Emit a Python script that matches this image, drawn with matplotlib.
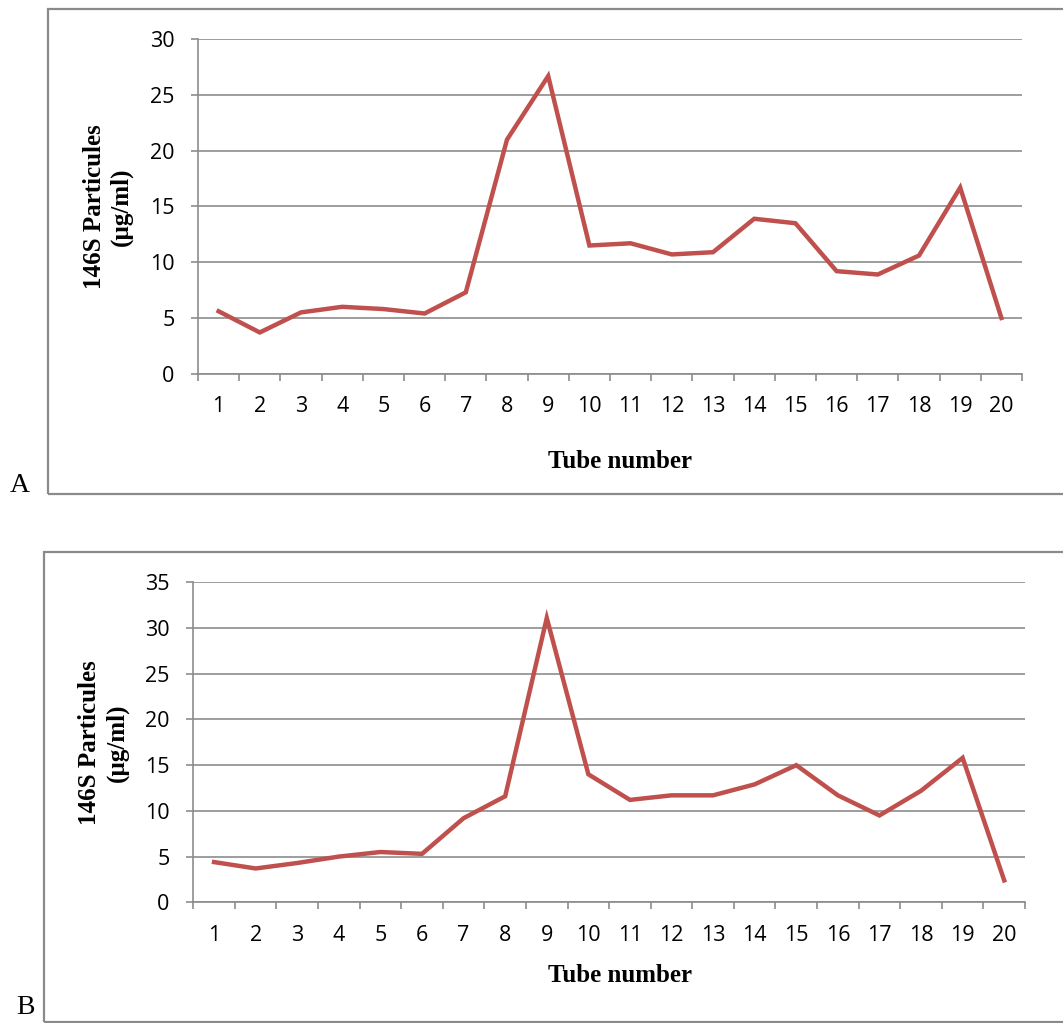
import matplotlib.pyplot as plt
from matplotlib.patches import Rectangle
import numpy as np

# ---------- Data ----------
tubes = [str(i) for i in range(1, 21)]
conc_a = [5.6, 3.7, 5.5, 6.0, 5.8, 5.4, 7.3, 21.0, 26.7, 11.5,
          11.7, 10.7, 10.9, 13.9, 13.5, 9.2, 8.9, 10.6, 16.7, 5.0]
conc_b = [4.4, 3.7, 4.3, 5.0, 5.5, 5.3, 9.2, 11.6, 31.1, 14.0,
          11.2, 11.7, 11.7, 12.9, 15.0, 11.7, 9.5, 12.2, 15.8, 2.4]
yticks_a = [0, 5, 10, 15, 20, 25, 30]
yticks_b = [0, 5, 10, 15, 20, 25, 30, 35]

LINE_RED = "#C0504D"
GRID_GREY = "#8C8C8C"
TICK_FONT = "Open Sans"
LABEL_FONT = "Liberation Serif"

fig = plt.figure(figsize=(10.63, 10.23), dpi=100)


def draw_panel(rect, values, yticks, xlabel_y, box, letter, letter_pos):
    ax = fig.add_axes(rect)
    x = np.arange(len(tubes))
    ax.plot(x, values, color=LINE_RED, lw=3.2, solid_joinstyle="miter", zorder=3)

    ax.set_xlim(-0.5, len(tubes) - 0.5)
    ax.set_ylim(yticks[0], yticks[-1])
    ax.set_yticks(yticks)
    ax.set_yticklabels([str(t) for t in yticks], fontfamily=TICK_FONT, fontsize=15.5)

    # category boundaries carry the tick marks, labels sit at the centres
    ax.set_xticks(np.arange(-0.5, len(tubes), 1.0))
    ax.set_xticklabels([])
    ax.set_xticks(x, minor=True)
    ax.set_xticklabels(tubes, minor=True, fontfamily=TICK_FONT, fontsize=15.5)
    ax.tick_params(axis="x", which="major", length=5, width=1.2, color=GRID_GREY)
    ax.tick_params(axis="x", which="minor", length=0, pad=16)
    ax.tick_params(axis="y", length=5, width=1.2, color=GRID_GREY, pad=12)

    ax.yaxis.grid(True, color=GRID_GREY, lw=1.2)
    ax.set_axisbelow(True)
    for side in ("top", "right"):
        ax.spines[side].set_visible(False)
    for side in ("left", "bottom"):
        ax.spines[side].set_color(GRID_GREY)
        ax.spines[side].set_linewidth(1.2)

    ax.set_ylabel("146S Particules\n(µg/ml)", fontfamily=LABEL_FONT,
                  fontweight="bold", fontsize=18, linespacing=1.2, labelpad=12)
    fig.text(620 / 1063, 1 - xlabel_y / 1023, "Tube number", fontfamily=LABEL_FONT,
             fontweight="bold", fontsize=18, ha="center", va="center")

    fig.add_artist(Rectangle(box[:2], box[2], box[3], transform=fig.transFigure,
                             fill=False, edgecolor="#8A8A8A", lw=1.6))
    fig.text(letter_pos[0] / 1063, 1 - letter_pos[1] / 1023, letter,
             fontfamily=LABEL_FONT, fontsize=20, ha="center", va="center")
    return ax


draw_panel([198 / 1063, 1 - 373.7 / 1023, 824 / 1063, 334.4 / 1023],
           conc_a, yticks_a, 462,
           (48 / 1063, 1 - 494 / 1023, 1.2, 485 / 1023), "A", (20, 486))
draw_panel([193.3 / 1063, 1 - 902.3 / 1023, 831.7 / 1063, 320 / 1023],
           conc_b, yticks_b, 975,
           (44 / 1063, 1 - 1022 / 1023, 1.2, 470 / 1023), "B", (25, 1008))

fig.savefig("out.png", dpi=100)
